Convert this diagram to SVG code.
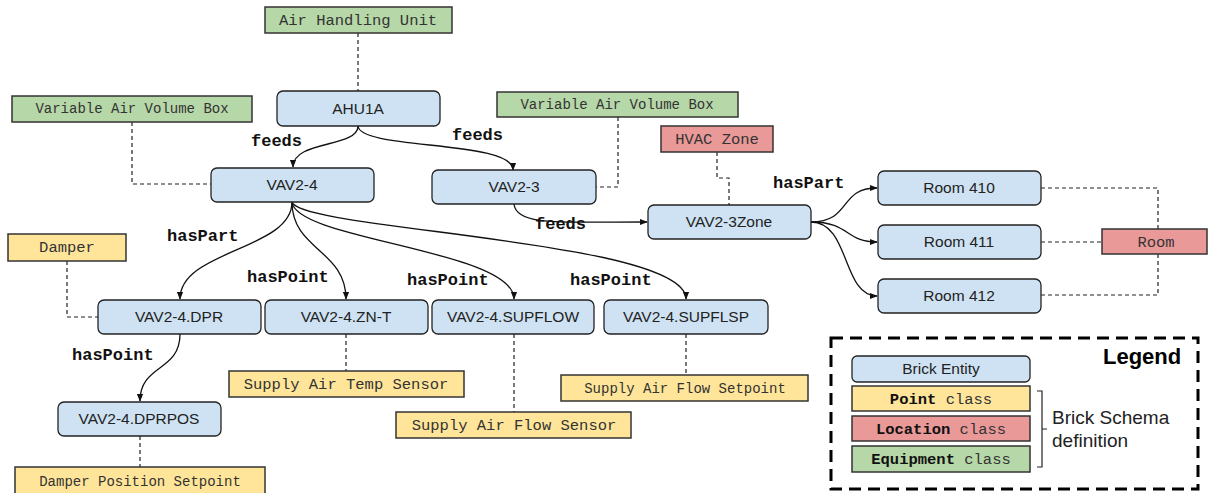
<svg xmlns="http://www.w3.org/2000/svg" width="1209" height="493" viewBox="0 0 1209 493">
<style>
.ent{fill:#cfe2f3;stroke:#222;stroke-width:1.3}
.cls{stroke:#333;stroke-width:1.5}
.g{fill:#b6d7a8}.y{fill:#ffe599}.r{fill:#ea9999}
.nt{font-family:"Liberation Sans",Arial,sans-serif;font-size:15.5px;fill:#222;text-anchor:middle}
.ct{font-family:"Liberation Mono","Courier New",monospace;font-size:15.5px;fill:#333;text-anchor:middle}
.cs{font-size:14px}
.el{font-family:"Liberation Mono","Courier New",monospace;font-size:17px;font-weight:bold;fill:#111}
.e{fill:none;stroke:#111;stroke-width:1.3}
.d{fill:none;stroke:#222;stroke-width:1.2;stroke-dasharray:4,3}
</style>
<defs>
<marker id="ah" viewBox="0 0 10 10" refX="9" refY="5" markerWidth="8" markerHeight="8" markerUnits="userSpaceOnUse" orient="auto">
<path d="M0,1 L10,5 L0,9 z" fill="#111"/>
</marker>
</defs>
<rect width="1209" height="493" fill="#fff"/>

<g id="connectors">
<path class="d" d="M358,33 V91"/>
<path class="d" d="M132,122 V184 H211"/>
<path class="d" d="M618,117 V187 H596"/>
<path class="d" d="M717,152 V178 H729 V205"/>
<path class="d" d="M1041,188 H1158 V229"/>
<path class="d" d="M1041,242 H1102"/>
<path class="d" d="M1158,254 V295 H1041"/>
<path class="d" d="M67,261 V317 H98"/>
<path class="d" d="M346,334 V371"/>
<path class="d" d="M514,334 V412"/>
<path class="d" d="M686,334 V375"/>
<path class="d" d="M140,436 V467"/>
<path class="e" marker-end="url(#ah)" d="M358,126 C358,148 293,140 293,167"/>
<path class="e" marker-end="url(#ah)" d="M358,126 C360,150 513,140 513,170"/>
<path class="e" marker-end="url(#ah)" d="M514,204 C516,226 560,222 647,222"/>
<path class="e" marker-end="url(#ah)" d="M811,222 C852,222 838,188 877,188"/>
<path class="e" marker-end="url(#ah)" d="M811,222 C850,222 845,242 877,242"/>
<path class="e" marker-end="url(#ah)" d="M811,222 C850,222 842,296 877,296"/>
<path class="e" marker-end="url(#ah)" d="M292,202 C292,250 180,250 180,299"/>
<path class="e" marker-end="url(#ah)" d="M292,202 C292,250 346,250 346,299"/>
<path class="e" marker-end="url(#ah)" d="M292,202 C296,240 514,250 514,299"/>
<path class="e" marker-end="url(#ah)" d="M292,202 C300,230 686,240 686,299"/>
<path class="e" marker-end="url(#ah)" d="M180,334 C180,372 140,364 140,401"/>
<text class="el" x="251" y="146">feeds</text>
<text class="el" x="452" y="140">feeds</text>
<text class="el" x="535" y="229">feeds</text>
<text class="el" x="773" y="188">hasPart</text>
<text class="el" x="167" y="241">hasPart</text>
<text class="el" x="247" y="282">hasPoint</text>
<text class="el" x="407" y="285">hasPoint</text>
<text class="el" x="570" y="285">hasPoint</text>
<text class="el" x="72" y="360">hasPoint</text>
</g>

<g id="cls-ahu"><rect class="cls g" x="265" y="7" width="187" height="26"/><text class="ct" x="358" y="25">Air Handling Unit</text></g>
<g id="cls-vav-left"><rect class="cls g" x="12" y="96" width="240" height="26"/><text class="ct cs" x="132" y="113">Variable Air Volume Box</text></g>
<g id="cls-vav-right"><rect class="cls g" x="497" y="92" width="241" height="25"/><text class="ct cs" x="617" y="109">Variable Air Volume Box</text></g>
<g id="cls-hvaczone"><rect class="cls r" x="661" y="126" width="112" height="26"/><text class="ct" x="717" y="144">HVAC Zone</text></g>
<g id="cls-room"><rect class="cls r" x="1102" y="229" width="105" height="25"/><text class="ct" x="1156" y="247">Room</text></g>
<g id="cls-damper"><rect class="cls y" x="8" y="234" width="118" height="27"/><text class="ct" x="67" y="252">Damper</text></g>
<g id="cls-sats"><rect class="cls y" x="229" y="371" width="235" height="26"/><text class="ct" x="346" y="389">Supply Air Temp Sensor</text></g>
<g id="cls-safs"><rect class="cls y" x="396" y="412" width="235" height="26"/><text class="ct" x="514" y="430">Supply Air Flow Sensor</text></g>
<g id="cls-safsp"><rect class="cls y" x="561" y="375" width="247" height="26"/><text class="ct cs" x="685" y="393">Supply Air Flow Setpoint</text></g>
<g id="cls-dps"><rect class="cls y" x="15" y="467" width="250" height="27"/><text class="ct cs" x="140" y="486">Damper Position Setpoint</text></g>

<g id="ahu1a"><rect class="ent" x="277" y="91" width="163" height="35" rx="6"/><text class="nt" x="358" y="114">AHU1A</text></g>
<g id="vav2-4"><rect class="ent" x="211" y="168" width="163" height="34" rx="6"/><text class="nt" x="292" y="190">VAV2-4</text></g>
<g id="vav2-3"><rect class="ent" x="432" y="170" width="164" height="34" rx="6"/><text class="nt" x="514" y="192">VAV2-3</text></g>
<g id="vav2-3zone"><rect class="ent" x="648" y="205" width="163" height="34" rx="6"/><text class="nt" x="729" y="227">VAV2-3Zone</text></g>
<g id="room410"><rect class="ent" x="878" y="171" width="163" height="34" rx="6"/><text class="nt" x="959" y="193">Room 410</text></g>
<g id="room411"><rect class="ent" x="878" y="225" width="163" height="34" rx="6"/><text class="nt" x="959" y="247">Room 411</text></g>
<g id="room412"><rect class="ent" x="878" y="279" width="163" height="34" rx="6"/><text class="nt" x="959" y="301">Room 412</text></g>
<g id="vav2-4-dpr"><rect class="ent" x="98" y="300" width="163" height="34" rx="6"/><text class="nt" x="179" y="322">VAV2-4.DPR</text></g>
<g id="vav2-4-znt"><rect class="ent" x="265" y="300" width="163" height="34" rx="6"/><text class="nt" x="346" y="322">VAV2-4.ZN-T</text></g>
<g id="vav2-4-supflow"><rect class="ent" x="432" y="300" width="162" height="34" rx="6"/><text class="nt" x="513" y="322">VAV2-4.SUPFLOW</text></g>
<g id="vav2-4-supflsp"><rect class="ent" x="604" y="300" width="164" height="34" rx="6"/><text class="nt" x="686" y="322">VAV2-4.SUPFLSP</text></g>
<g id="vav2-4-dprpos"><rect class="ent" x="58" y="402" width="163" height="34" rx="6"/><text class="nt" x="139" y="424">VAV2-4.DPRPOS</text></g>

<g id="legend">
<rect x="831" y="338" width="367" height="151" fill="none" stroke="#000" stroke-width="3" stroke-dasharray="12,7"/>
<text x="1103" y="364" font-family="Liberation Sans,Arial,sans-serif" font-size="22" font-weight="bold" fill="#000">Legend</text>
<rect class="ent" x="852" y="356" width="178" height="26" rx="5"/>
<text class="nt" x="941" y="374" font-size="16">Brick Entity</text>
<rect class="cls y" x="852" y="386" width="178" height="25"/>
<text class="ct" x="941" y="404"><tspan font-weight="bold" fill="#111">Point</tspan> class</text>
<rect class="cls r" x="852" y="416" width="178" height="25"/>
<text class="ct" x="941" y="434"><tspan font-weight="bold" fill="#111">Location</tspan> class</text>
<rect class="cls g" x="852" y="446" width="178" height="26"/>
<text class="ct" x="941" y="464"><tspan font-weight="bold" fill="#111">Equipment</tspan> class</text>
<path d="M1037,391 H1042 V467 H1037 M1042,429 H1047" fill="none" stroke="#222" stroke-width="1.2"/>
<text x="1052" y="424" font-family="Liberation Sans,Arial,sans-serif" font-size="19" fill="#222">Brick Schema</text>
<text x="1052" y="447" font-family="Liberation Sans,Arial,sans-serif" font-size="19" fill="#222">definition</text>
</g>
</svg>
